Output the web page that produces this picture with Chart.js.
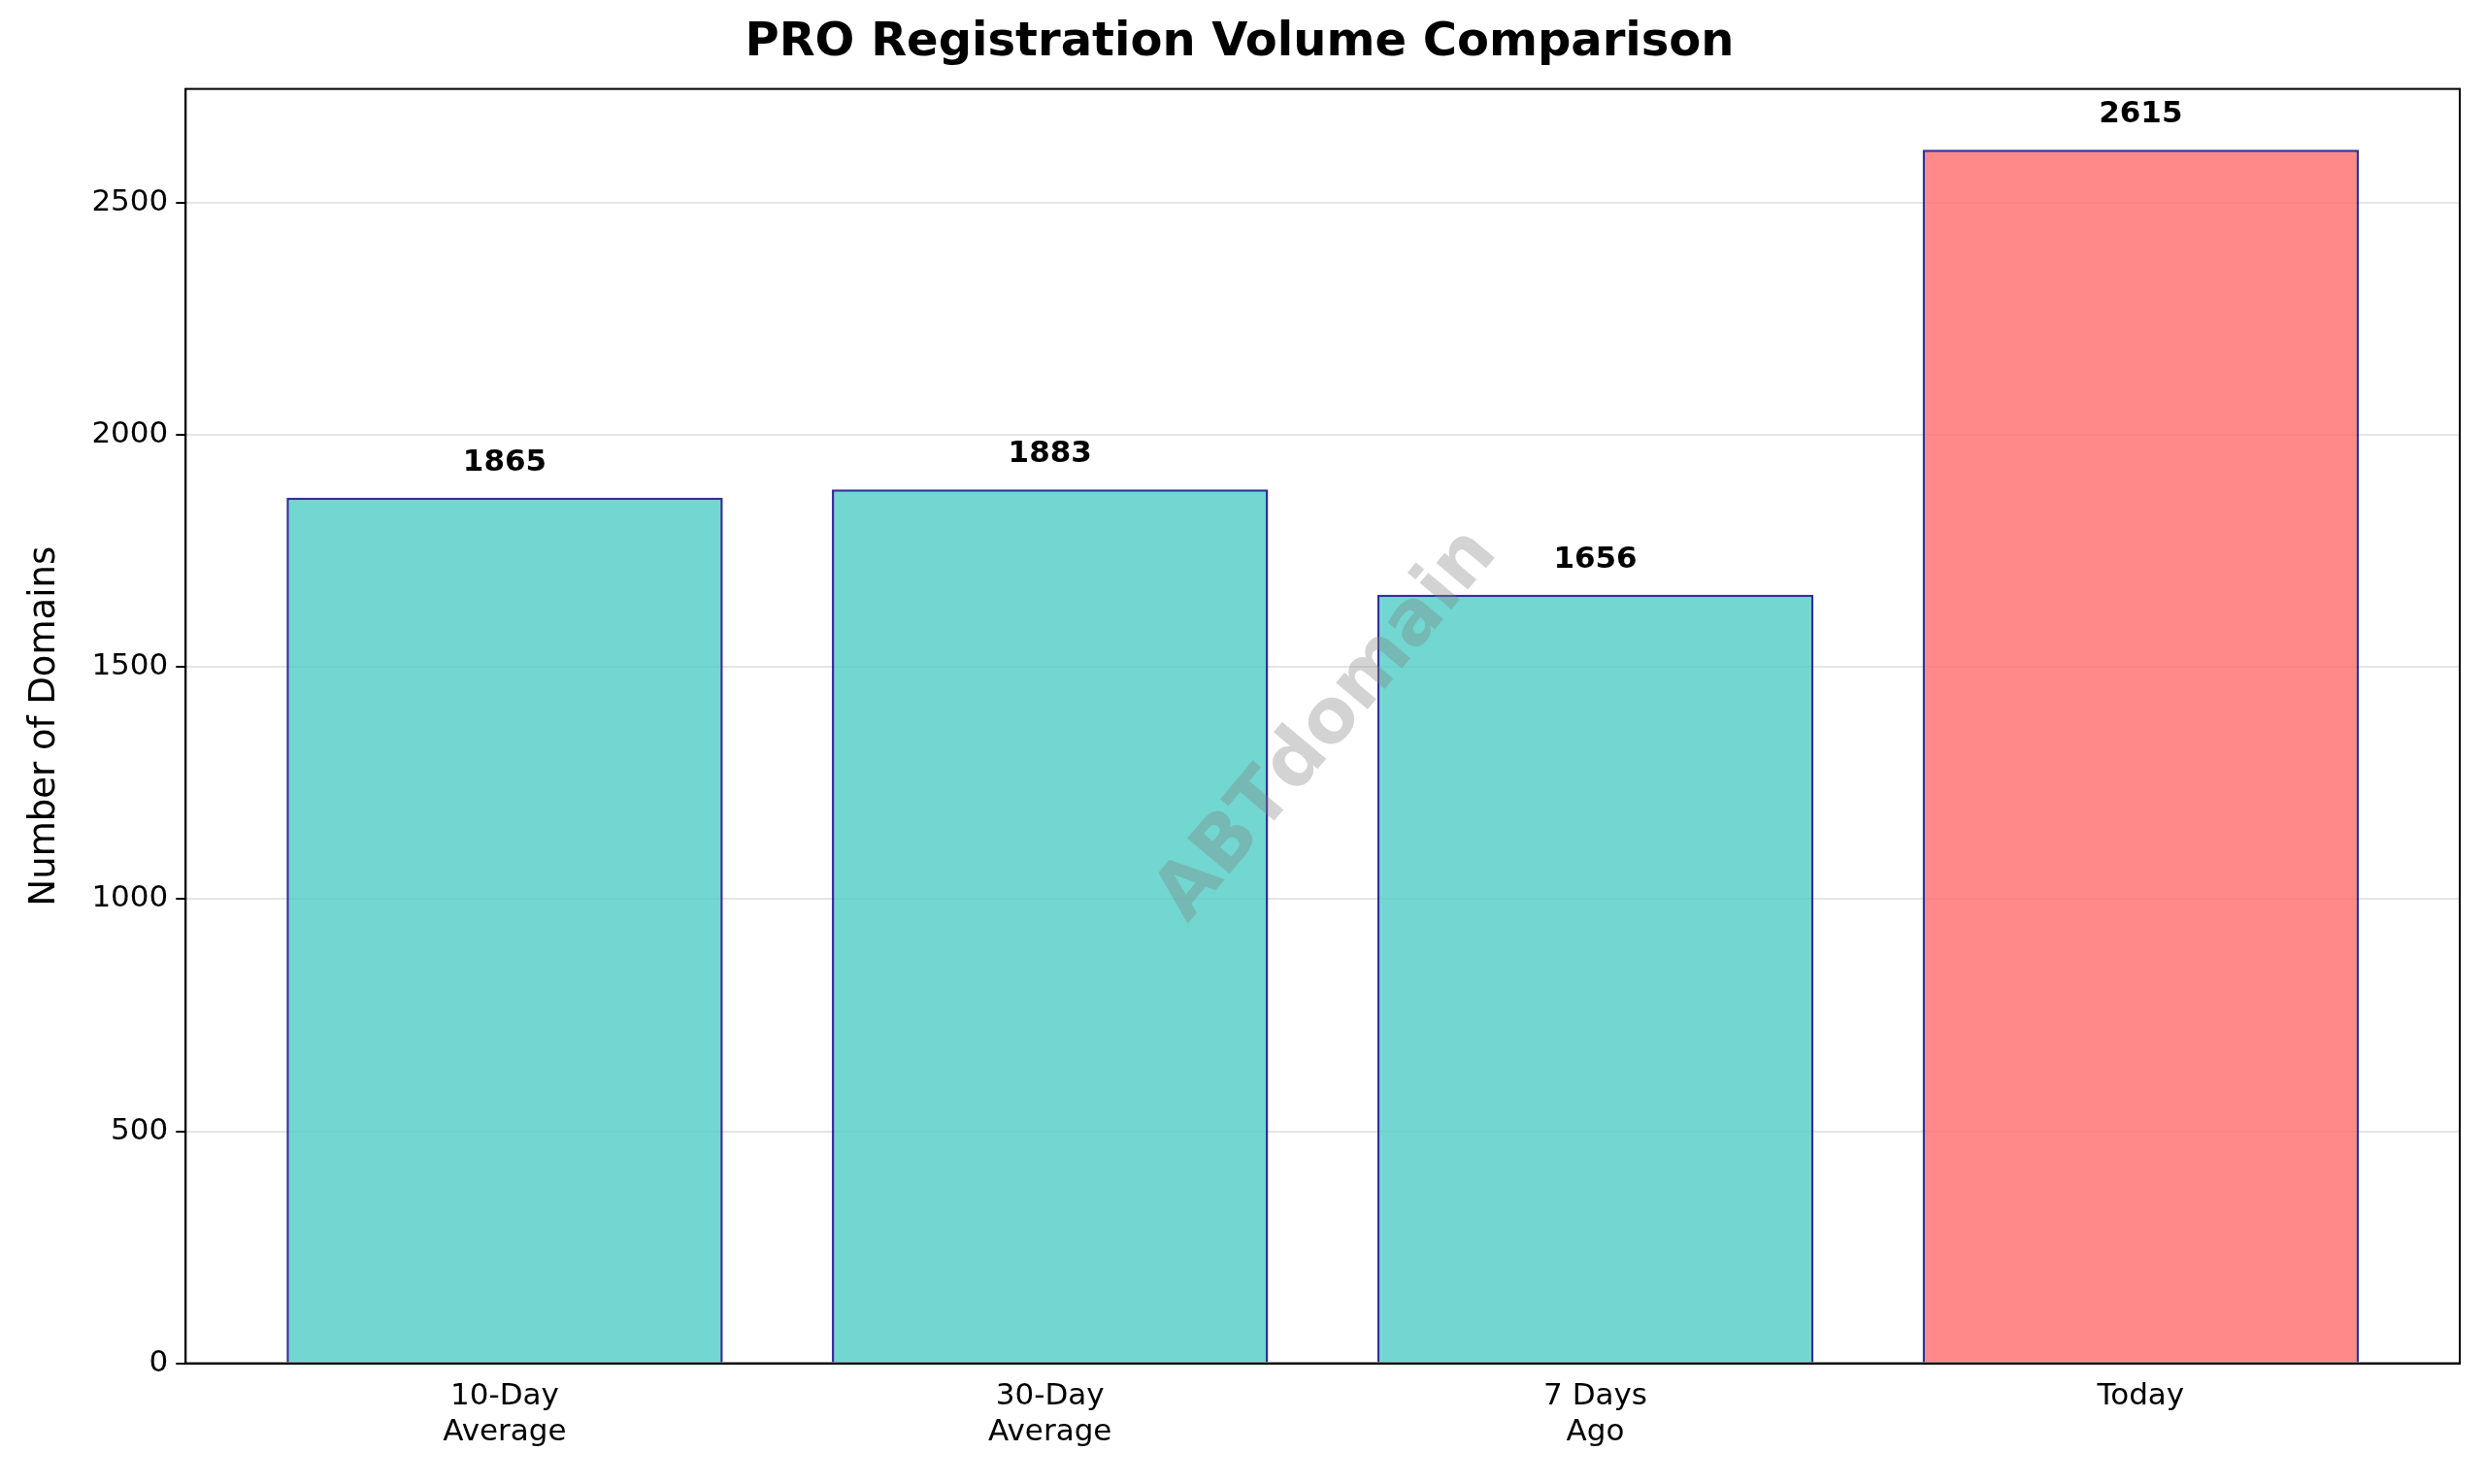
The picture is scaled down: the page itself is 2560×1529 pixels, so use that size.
<!DOCTYPE html>
<html><head><meta charset="utf-8">
<script src="https://cdn.jsdelivr.net/npm/chart.js@4"></script>
<style>html,body{margin:0;padding:0;background:#fff}#w{width:2560px;height:1529px}</style>
</head><body><div id="w"><canvas id="c"></canvas></div>
<script>
const categories = [["10-Day","Average"],["30-Day","Average"],["7 Days","Ago"],["Today"]];
const values = [1865, 1883, 1656, 2615];
const barColors = ["rgba(78,205,196,0.8)","rgba(78,205,196,0.8)","rgba(78,205,196,0.8)","rgba(255,107,107,0.8)"];
const yTicks = [0,500,1000,1500,2000,2500];
const F = "'DejaVu Sans', sans-serif";

const overlay = {
  id:'overlay',
  afterDatasetsDraw(chart){
    const {ctx, scales:{x,y}, chartArea:a} = chart;
    ctx.save();
    ctx.translate(1368, 748);
    ctx.rotate(-50*Math.PI/180);
    ctx.font = "bold 78px "+F;
    ctx.fillStyle = "rgba(128,128,128,0.35)";
    ctx.textAlign='center'; ctx.textBaseline='middle';
    ctx.fillText("ABTdomain",0,0);
    ctx.restore();
    ctx.save();
    ctx.font = "bold 31px "+F;
    ctx.fillStyle="#000"; ctx.textAlign='center'; ctx.textBaseline='alphabetic';
    values.forEach((v,i)=>{
      ctx.fillText(String(v), x.getPixelForValue(i), y.getPixelForValue(v)-28);
    });
    ctx.strokeStyle="#000"; ctx.lineWidth=2;
    ctx.strokeRect(a.left,a.top,a.right-a.left,a.bottom-a.top);
    ctx.restore();
  }
};

new Chart(document.getElementById('c'),{
  type:'bar',
  data:{datasets:[{data:values.map((v,i)=>({x:i,y:v})),backgroundColor:barColors,borderColor:"rgba(26,26,140,0.9)",borderWidth:2.5,barPercentage:0.8,categoryPercentage:1}]},
  options:{
    responsive:true,maintainAspectRatio:false,animation:false,devicePixelRatio:1,
    layout:{padding:{left:20,right:26,top:6,bottom:28}},
    plugins:{legend:{display:false},tooltip:{enabled:false},
      title:{display:true,text:"PRO Registration Volume Comparison",font:{family:F,size:48,weight:'bold'},color:'#000',padding:{top:10,bottom:18}}},
    scales:{
      x:{type:'linear',offset:false,min:-0.585,max:3.585,
        afterBuildTicks(s){s.ticks=[0,1,2,3].map(v=>({value:v}));},
        ticks:{callback:(v)=>categories[v],font:{family:F,size:31},color:'#000',maxRotation:0,padding:6},
        grid:{display:false,drawTicks:true,tickLength:10,color:'#000'},border:{color:'#000',width:2}},
      y:{min:0,max:2746,
        afterBuildTicks(s){s.ticks=yTicks.map(v=>({value:v}));},
        ticks:{callback:(v)=>String(v),font:{family:F,size:31},color:'#000',padding:8},
        grid:{color:'rgba(0,0,0,0.1)',lineWidth:2,tickColor:'#000',tickLength:10},border:{color:'#000',width:2},
        title:{display:true,text:"Number of Domains",font:{family:F,size:37},color:'#000',padding:{bottom:18}}}
    }
  },
  plugins:[overlay]
});
</script></body></html>
